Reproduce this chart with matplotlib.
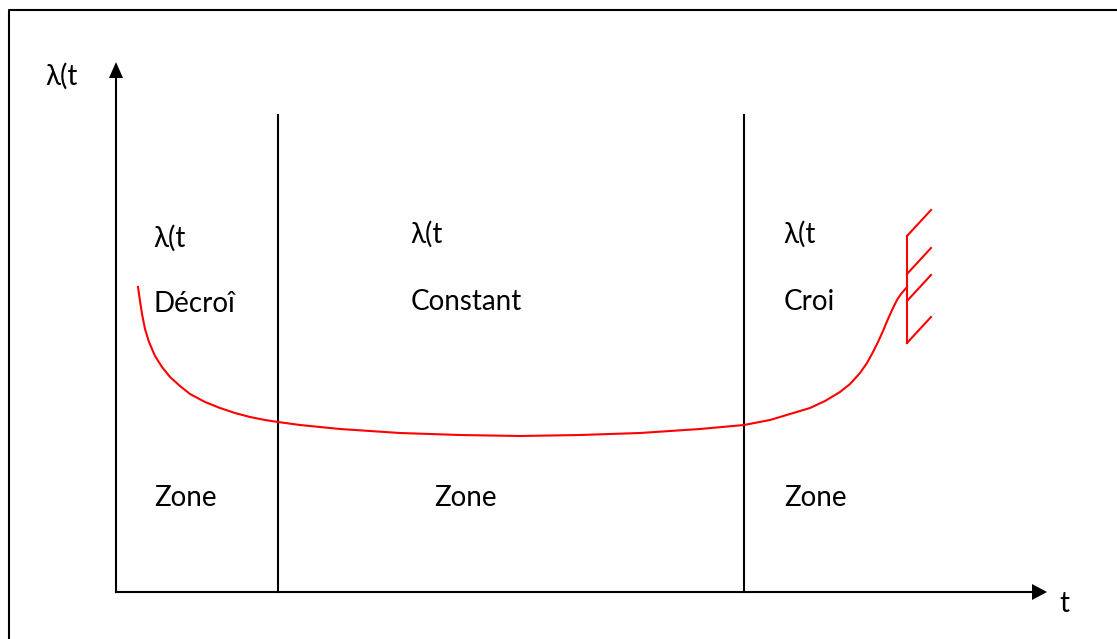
"""
Bathtub curve (courbe en baignoire) of failure rate lambda(t).
Drawn in a pixel-like frame: x to the right, y downward (0..1117, 0..639).
"""

import matplotlib
matplotlib.use('Agg')
import matplotlib.pyplot as plt
from matplotlib.patches import Polygon

# =============================================================================
# DATA
# =============================================================================

# failure-rate curve, red
curve_t   = [138, 140, 142, 145, 149, 155, 162, 170, 180, 190, 205, 220, 235,
             250, 265, 278, 300, 340, 400, 460, 520, 580, 640, 700, 744,
             770, 790, 810, 825, 840, 850, 860, 867, 873, 878, 883, 888,
             893, 897, 901, 907]
curve_lam = [287, 301, 314, 329, 342, 356, 367, 377, 386, 394, 402, 408, 413,
             417, 420, 422, 425, 429, 433, 435, 436, 435, 433, 429, 425,
             420, 414, 408, 401, 392, 384, 373, 363, 352, 342, 331, 319,
             308, 300, 294, 287]

# zone boundaries (x) and their top
zone_bounds = [278, 744]
bound_top = 115

# hatch marking the end of life: vertical bar and diagonal ticks
hatch_x = 907
hatch_y = [236, 343]
tick_y0 = [236, 274, 301, 343]
tick_dx, tick_dy = 24, -26

# axes
origin = (116, 592)
y_tip = 62
x_tip = 1047

# labels
zone_x     = [153, 410, 783]
lam_labels = ['λ(t', 'λ(t', 'λ(t']
lam_y      = [247, 243, 243]
phase_text = ['Décroî', 'Constant', 'Croi']
phase_y    = [312, 310, 310]
zone_text  = ['Zone', 'Zone', 'Zone']
zone_tx    = [154, 434, 784]
zone_y     = 506

FONT = 'Lato'
FS = 20
LW = 1.5

# =============================================================================
# PLOT
# =============================================================================

fig = plt.figure(figsize=(11.17, 6.39), dpi=100)
ax = fig.add_axes([0, 0, 1, 1])
ax.set_xlim(0, 1117)
ax.set_ylim(639, 0)
ax.axis('off')

# outer frame (only top and left visible)
ax.plot([9, 9, 1117], [639, 10, 10], color='black', lw=LW)

# axes lines with arrow heads
ox, oy = origin
ax.plot([ox, ox], [oy, y_tip + 14], color='black', lw=LW)
ax.plot([ox, x_tip - 14], [oy, oy], color='black', lw=LW)
ax.add_patch(Polygon([[ox, y_tip], [ox - 7, y_tip + 16], [ox + 7, y_tip + 16]],
                     closed=True, color='black', lw=0))
ax.add_patch(Polygon([[x_tip, oy], [x_tip - 15, oy - 8], [x_tip - 15, oy + 8]],
                     closed=True, color='black', lw=0))

# zone boundaries
for xb in zone_bounds:
    ax.plot([xb, xb], [oy, bound_top], color='black', lw=LW)

# failure-rate curve
ax.plot(curve_t, curve_lam, color='red', lw=LW, solid_joinstyle='round')

# end-of-life hatch
ax.plot([hatch_x, hatch_x], hatch_y, color='red', lw=LW)
for y0 in tick_y0:
    ax.plot([hatch_x, hatch_x + tick_dx], [y0, y0 + tick_dy], color='red', lw=LW)

# text
txt = dict(family=FONT, fontsize=FS, color='black', va='baseline', ha='left')
ax.text(45, 85, 'λ(t', **txt)
ax.text(1059, 612, 't', **txt)
for x, s, y in zip(zone_x, lam_labels, lam_y):
    ax.text(x, y, s, **txt)
for x, s, y in zip(zone_x, phase_text, phase_y):
    ax.text(x + 1, y, s, **txt)
for x, s in zip(zone_tx, zone_text):
    ax.text(x, zone_y, s, **txt)

fig.savefig('out.png', dpi=100)
plt.close(fig)
